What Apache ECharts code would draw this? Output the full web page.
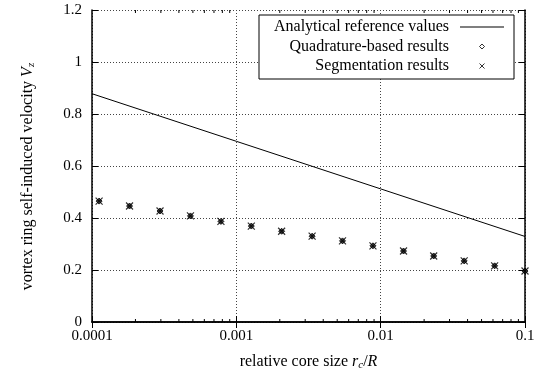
<!DOCTYPE html>
<html><head><meta charset="utf-8">
<script src="https://cdn.jsdelivr.net/npm/echarts@6/dist/echarts.min.js"></script>
<style>html,body{margin:0;padding:0;background:#fff}#c{width:542px;height:376px}</style>
</head><body><div id="c"></div>
<script>
const coreSizes = [0.000112, 0.000182, 0.000296, 0.000481, 0.000782, 0.00127, 0.00206, 0.00335, 0.00544, 0.00884, 0.0144, 0.0233, 0.0379, 0.0616, 0.1];
const quadratureVz = [0.465, 0.446, 0.427, 0.408, 0.387, 0.369, 0.349, 0.330, 0.312, 0.293, 0.273, 0.254, 0.235, 0.216, 0.196];
const segmentationVz = [0.465, 0.446, 0.427, 0.408, 0.387, 0.369, 0.349, 0.330, 0.312, 0.293, 0.273, 0.254, 0.235, 0.216, 0.196];
const analyticalX = [0.0001, 0.001, 0.01, 0.1];
const analyticalVz = [0.878, 0.695, 0.512, 0.329];
const xTickValues = [0.0001, 0.001, 0.01, 0.1];
const xTickLabels = ['0.0001', '0.001', '0.01', '0.1'];
const minorTickValues = [0.0002,0.0003,0.0004,0.0005,0.0006,0.0007,0.0008,0.0009,
  0.002,0.003,0.004,0.005,0.006,0.007,0.008,0.009,
  0.02,0.03,0.04,0.05,0.06,0.07,0.08,0.09];
const seriesNames = ['Analytical reference values', 'Quadrature-based results', 'Segmentation results'];

const FONT = 'Liberation Serif';
const BLACK = '#000';
const gridDots = { color: '#444', width: 1, type: [1, 2] };
const chart = echarts.init(document.getElementById('c'), null, { renderer: 'canvas' });

function xLabel(v) {
  const e = Math.round(Math.log10(v));
  let best = 0;
  xTickValues.forEach((t, i) => { if (Math.abs(Math.log10(t) - e) < Math.abs(Math.log10(xTickValues[best]) - e)) best = i; });
  return xTickLabels[best];
}

const DIAMOND = 'path://M5,0L10,5L5,10L0,5Z';
const CROSS = 'path://M0,0L10,10M0,10L10,0';
const LINE_ICON = 'path://M0,0L88,0L88,2L0,2Z';

const nameRich = {
  r: { fontFamily: FONT, fontSize: 16, color: BLACK },
  i: { fontFamily: FONT, fontSize: 16, fontStyle: 'italic', color: BLACK },
  s: { fontFamily: FONT, fontSize: 11, fontStyle: 'italic', color: BLACK, padding: [7, 0, 0, 0] }
};

chart.setOption({
  animation: false,
  backgroundColor: '#fff',
  textStyle: { fontFamily: FONT, color: BLACK },
  grid: { left: 92, right: 17, top: 10, bottom: 53 },
  legend: {
    left: 259, top: 15, orient: 'vertical', align: 'right',
    backgroundColor: '#fff', borderColor: BLACK, borderWidth: 1, borderRadius: 0,
    padding: [4, 10, 5, 15], itemGap: 3.5, itemWidth: 44, itemHeight: 5,
    symbolKeepAspect: true,
    data: [
      { name: seriesNames[0], icon: LINE_ICON },
      { name: seriesNames[1], icon: DIAMOND, itemStyle: { color: '#fff', borderColor: BLACK, borderWidth: 1 } },
      { name: seriesNames[2], icon: CROSS, itemStyle: { color: 'none', borderColor: BLACK, borderWidth: 1 } }
    ],
    formatter: n => '{t|' + n + '}',
    textStyle: { fontFamily: FONT, fontSize: 16, color: BLACK,
      rich: { t: { width: 185, align: 'right', padding: [0, 6, 0, 0], fontFamily: FONT, fontSize: 16, color: BLACK } } }
  },
  xAxis: [{
    type: 'log', logBase: 10, min: 0.0001, max: 0.1, position: 'bottom',
    name: '{r|relative core size }{i|r}{s|c}{r|/}{i|R}',
    nameLocation: 'middle', nameGap: 31,
    nameTextStyle: { fontFamily: FONT, fontSize: 16, color: BLACK, rich: nameRich },
    axisLine: { show: true, lineStyle: { color: BLACK, width: 1.5 } },
    axisTick: { show: true, inside: true, length: 6, lineStyle: { color: BLACK } },
    axisLabel: { fontFamily: FONT, fontSize: 15, color: BLACK, margin: 7, formatter: xLabel },
    splitLine: { show: true, lineStyle: gridDots },
    minorTick: { show: false }
  }, {
    type: 'log', logBase: 10, min: 0.0001, max: 0.1, position: 'top',
    axisLine: { show: true, lineStyle: { color: BLACK, width: 1.5 } },
    axisTick: { show: true, inside: true, length: 6, lineStyle: { color: BLACK } },
    axisLabel: { show: false }, splitLine: { show: false }
  }],
  yAxis: [{
    type: 'value', min: 0, max: 1.2, interval: 0.2, position: 'left',
    name: '{r|vortex ring self-induced velocity }{i|V}{s|z}',
    nameLocation: 'middle', nameGap: 55, nameRotate: 90,
    nameTextStyle: { fontFamily: FONT, fontSize: 16, color: BLACK, padding: [0, 21, 0, 0], rich: nameRich },
    axisLine: { show: true, lineStyle: { color: BLACK, width: 1.5 } },
    axisTick: { show: true, inside: true, length: 6, lineStyle: { color: BLACK } },
    axisLabel: { fontFamily: FONT, fontSize: 15, color: BLACK, margin: 10 },
    splitLine: { show: true, lineStyle: gridDots }
  }, {
    type: 'value', min: 0, max: 1.2, interval: 0.2, position: 'right',
    axisLine: { show: true, lineStyle: { color: BLACK, width: 1.5 } },
    axisTick: { show: true, inside: true, length: 6, lineStyle: { color: BLACK } },
    axisLabel: { show: false }, splitLine: { show: false }
  }],
  series: [{
    name: seriesNames[0], type: 'line', xAxisIndex: 0, yAxisIndex: 0,
    data: analyticalX.map((x, i) => [x, analyticalVz[i]]),
    symbol: 'none', lineStyle: { color: BLACK, width: 1 }, itemStyle: { color: BLACK }, z: 3
  }, {
    name: seriesNames[1], type: 'scatter', xAxisIndex: 0, yAxisIndex: 0,
    data: coreSizes.map((x, i) => [x, quadratureVz[i]]),
    symbol: DIAMOND, symbolSize: 6, clip: false,
    itemStyle: { color: '#111', borderColor: BLACK, borderWidth: 1 }, z: 4
  }, {
    name: seriesNames[2], type: 'scatter', xAxisIndex: 0, yAxisIndex: 0,
    data: coreSizes.map((x, i) => [x, segmentationVz[i]]),
    symbol: CROSS, symbolSize: 7, clip: false,
    itemStyle: { color: 'none', borderColor: BLACK, borderWidth: 1.2 }, z: 5
  }, {
    type: 'custom', xAxisIndex: 0, yAxisIndex: 0, silent: true, clip: false, z: 6,
    data: minorTickValues.map(v => [v, 0]),
    renderItem: (params, api) => {
      const b = api.coord([api.value(0), 0]);
      const t = api.coord([api.value(0), 1.2]);
      return { type: 'group', children: [
        { type: 'line', shape: { x1: b[0], y1: b[1], x2: b[0], y2: b[1] - 3 }, style: { stroke: BLACK, lineWidth: 1 } },
        { type: 'line', shape: { x1: t[0], y1: t[1], x2: t[0], y2: t[1] + 3 }, style: { stroke: BLACK, lineWidth: 1 } }
      ] };
    }
  }]
});
</script></body></html>
